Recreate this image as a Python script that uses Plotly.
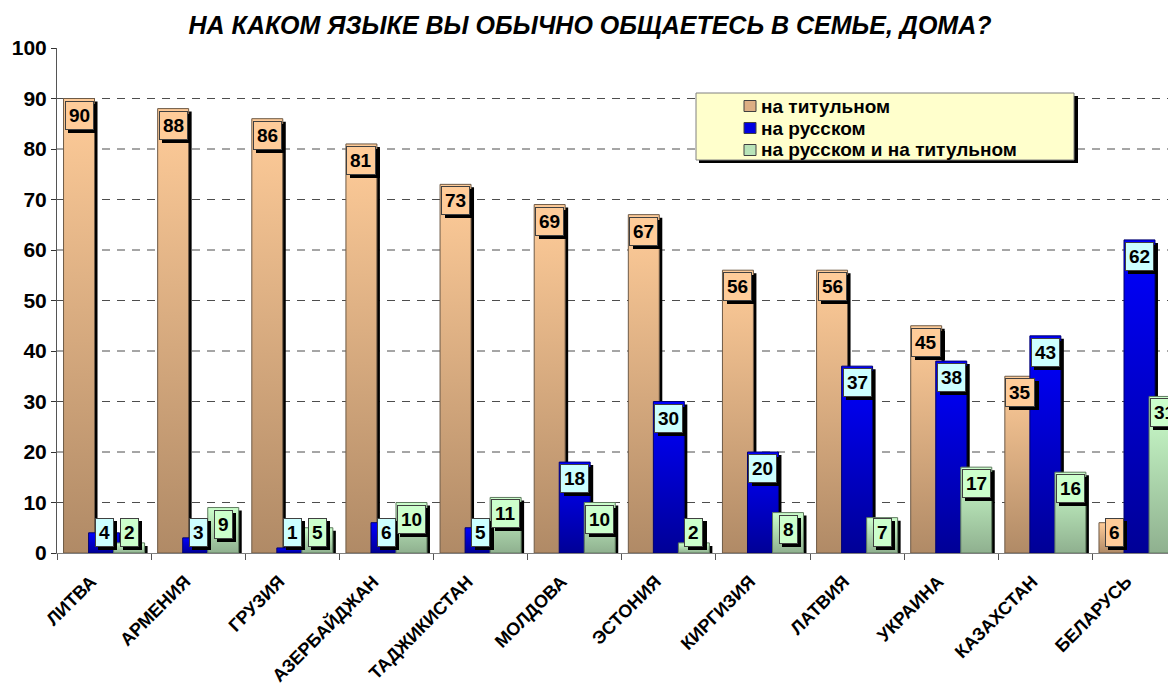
import plotly.graph_objects as go

# ---------------- data ----------------
categories = ["ЛИТВА", "АРМЕНИЯ", "ГРУЗИЯ", "АЗЕРБАЙДЖАН", "ТАДЖИКИСТАН", "МОЛДОВА",
              "ЭСТОНИЯ", "КИРГИЗИЯ", "ЛАТВИЯ", "УКРАИНА", "КАЗАХСТАН", "БЕЛАРУСЬ"]
titular = [90, 88, 86, 81, 73, 69, 67, 56, 56, 45, 35, 6]
russian = [4, 3, 1, 6, 5, 18, 30, 20, 37, 38, 43, 62]
both = [2, 9, 5, 10, 11, 10, 2, 8, 7, 17, 16, 31]
series_names = ["на титульном", "на русском", "на русском и на титульном"]
y_ticks = list(range(0, 101, 10))
title_text = "НА КАКОМ ЯЗЫКЕ ВЫ ОБЫЧНО ОБЩАЕТЕСЬ В СЕМЬЕ, ДОМА?"

# ---------------- styling / geometry ----------------
PAGE_OFF = 8            # default body margin of the html page
W, H = 1176 - PAGE_OFF, 689 - PAGE_OFF
ML, MR, MT, MB = 57 - PAGE_OFF, 0, 48 - PAGE_OFF, 136
plot_w = W - ML - MR
plot_h = H - MT - MB
px_per_cat = 94.13
x_range = [-0.5, -0.5 + plot_w / px_per_cat]
y_range = [0, 100]
px_per_y = plot_h / 100.0

offsets = [-0.266, 0.0, 0.266]
bar_w = 0.329
sdx = 3.0 / px_per_cat
sdy = 3.0 / px_per_y

grad_bottom = ["#B08A66", "#000096", "#8FB08F"]
grad_top = ["#FFCC99", "#0000FF", "#CCFFCC"]
edge_col = ["#6E5A46", "#000070", "#5E7A5E"]
box_col = ["#FFCC99", "#CCFFFF", "#CCFFCC"]
legend_col = ["#DDAF84", "#0000E0", "#B8E4B8"]
FONT = "Arial, 'Liberation Sans', sans-serif"

all_series = [titular, russian, both]

fig = go.Figure()

for s, vals in enumerate(all_series):
    # shadow polygons for this series
    sx, sy = [], []
    for k, v in enumerate(vals):
        x0 = k + offsets[s] - bar_w / 2 + sdx
        x1 = x0 + bar_w
        top = v - sdy
        sx += [x0, x1, x1, x0, x0, None]
        sy += [-2, -2, top, top, -2, None]
    fig.add_trace(go.Scatter(x=sx, y=sy, mode="lines", fill="toself",
                             fillcolor="#000000", line=dict(width=0, color="#000000"),
                             hoverinfo="skip", showlegend=False))
    # gradient bars
    for k, v in enumerate(vals):
        x0 = k + offsets[s] - bar_w / 2
        x1 = x0 + bar_w
        fig.add_trace(go.Scatter(
            x=[x0, x1, x1, x0, x0], y=[0, 0, v, v, 0],
            mode="lines", fill="toself",
            fillgradient=dict(type="vertical",
                              colorscale=[[0, grad_bottom[s]], [1, grad_top[s]]],
                              start=0, stop=v),
            line=dict(width=1, color=edge_col[s]),
            name=series_names[s], showlegend=False,
            hoveron="fills", text=f"{series_names[s]} — {categories[k]}: {v}",
            hoverinfo="text"))


def px_to_paper_x(px):
    return (px - PAGE_OFF - ML) / plot_w


def px_to_paper_y(py):
    return (H - MB - (py - PAGE_OFF)) / plot_h


annotations = []
for s, vals in enumerate(all_series):
    for k, v in enumerate(vals):
        xc = k + offsets[s]
        ytop = max(v - 0.4, 7.0)
        common = dict(x=xc, y=ytop, xref="x", yref="y", xanchor="center", yanchor="top",
                      text=f"<b>{v}</b>", showarrow=False, borderpad=3, borderwidth=1,
                      font=dict(family=FONT, size=19, color="#000000"))
        annotations.append(dict(common, bgcolor="#000000", bordercolor="#000000",
                                xshift=3.5, yshift=-3))
        annotations.append(dict(common, bgcolor=box_col[s], bordercolor="#404040"))

shapes = []
for v in y_ticks[1:-1]:
    shapes.append(dict(type="line", xref="paper", yref="y", x0=0, x1=1, y0=v, y1=v,
                       line=dict(color="#4D4D4D", width=1, dash="8px,7px"), layer="below"))

# legend box with shadow (manual legend)
lx0, ly0, lx1, ly1 = 696, 93, 1074, 160
shapes.append(dict(type="rect", xref="paper", yref="paper",
                   x0=px_to_paper_x(lx0 + 3), x1=px_to_paper_x(lx1 + 4),
                   y0=px_to_paper_y(ly1 + 3), y1=px_to_paper_y(ly0 + 3),
                   fillcolor="#000000", line=dict(width=0), layer="above"))
shapes.append(dict(type="rect", xref="paper", yref="paper",
                   x0=px_to_paper_x(lx0), x1=px_to_paper_x(lx1),
                   y0=px_to_paper_y(ly1), y1=px_to_paper_y(ly0),
                   fillcolor="#FFFFCC", line=dict(width=1, color="#808080"), layer="above"))
row_y = [106, 128, 150]
for s in range(3):
    cy = row_y[s]
    shapes.append(dict(type="rect", xref="paper", yref="paper",
                       x0=px_to_paper_x(744), x1=px_to_paper_x(756),
                       y0=px_to_paper_y(cy + 5.5), y1=px_to_paper_y(cy - 5.5),
                       fillcolor=legend_col[s], line=dict(width=1, color="#404040"),
                       layer="above"))
    annotations.append(dict(x=px_to_paper_x(759), y=px_to_paper_y(cy), xref="paper",
                            yref="paper", xanchor="left", yanchor="middle",
                            text=f"<b>{series_names[s]}</b>", showarrow=False,
                            font=dict(family=FONT, size=19, color="#000000")))

fig.update_layout(
    width=W, height=H,
    margin=dict(l=ML, r=MR, t=MT, b=MB, autoexpand=False),
    paper_bgcolor="#FFFFFF", plot_bgcolor="#FFFFFF",
    title=dict(text=f"<b><i>{title_text}</i></b>", x=(590 - PAGE_OFF) / W, xref="container",
               xanchor="center", y=1 - (25 - PAGE_OFF) / H, yref="container",
               yanchor="middle",
               font=dict(family=FONT, size=25, color="#000000")),
    showlegend=False,
    xaxis=dict(range=x_range, tickmode="array", tickvals=list(range(len(categories))),
               ticktext=[f"<b>{c}</b>" for c in categories], tickangle=-45, ticks="",
               showgrid=False, zeroline=False, automargin=False,
               showline=True, linecolor="#7F7F7F", linewidth=1,
               ticklabelstandoff=10, ticklabelshift=-13,
               tickfont=dict(family=FONT, size=18, color="#000000"),
               minor=dict(tickmode="linear", tick0=-0.5, dtick=1, ticks="outside",
                          ticklen=6, tickcolor="#555555", showgrid=False)),
    yaxis=dict(range=y_range, tickmode="array", tickvals=y_ticks, ticks="outside",
               ticklen=5, tickcolor="#333333", showgrid=False, zeroline=False,
               automargin=False, showline=True, linecolor="#555555", linewidth=1,
               ticktext=[f"<b>{t}</b>" for t in y_ticks],
               tickfont=dict(family=FONT, size=21, color="#000000")),
    annotations=annotations,
    shapes=shapes,
)

fig.write_html("out.html")
